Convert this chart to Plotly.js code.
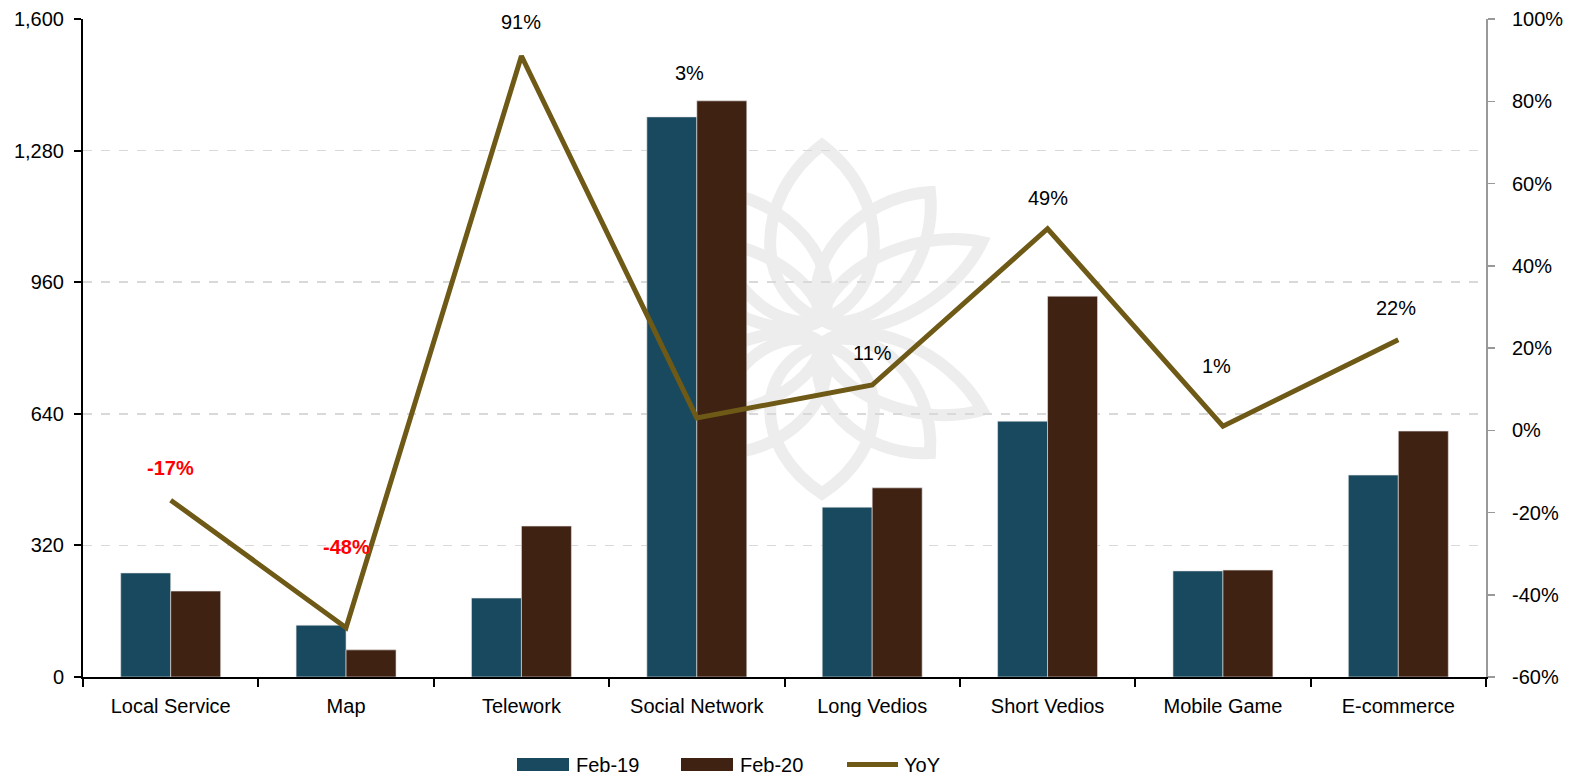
<!DOCTYPE html>
<html>
<head>
<meta charset="utf-8">
<script src="https://cdn.plot.ly/plotly-3.0.1.min.js"></script>
<style>
html,body{margin:0;padding:0;background:#fff;}
#chart{width:1569px;height:775px;}
</style>
</head>
<body>
<div id="chart"></div>
<script>
// ---- data ----
const categories = ["Local Service","Map","Telework","Social Network","Long Vedios","Short Vedios","Mobile Game","E-commerce"];
const feb19 = [253, 126, 192, 1362, 413, 622, 258, 491];
const feb20 = [209, 66, 367, 1401, 460, 926, 260, 598];
const yoy = [-17, -48, 91, 3, 11, 49, 1, 22];
const seriesNames = ["Feb-19", "Feb-20", "YoY"];
const leftTicks = [0, 320, 640, 960, 1280, 1600];
const rightTicks = [-60, -40, -20, 0, 20, 40, 60, 80, 100];

// ---- style ----
const C19 = "#19495E", C20 = "#402213", CL = "#6E5A16";
const FONT = "Liberation Sans, Arial, sans-serif";
const labelShift = [32, 81, 34, 345, 32, 31, 60, 32];
const labelDx = [0, 0, 0, -7, 0, 0, -6, -2];

// plot area in pixels (for decoration helpers)
const PX0 = 83, PX1 = 1486, PY0 = 19, PY1 = 677;
const px = x => (x - PX0) / (PX1 - PX0);
const py = y => (PY1 - y) / (PY1 - PY0);

function petal(bx, by, tx, ty, w) {
  const mx = (bx + tx) / 2, my = (by + ty) / 2;
  const dx = tx - bx, dy = ty - by, L = Math.hypot(dx, dy);
  const nx = -dy / L, ny = dx / L;
  const k = 1.33 * w;
  const a1x = bx + dx * 0.15 + nx * k, a1y = by + dy * 0.15 + ny * k;
  const a2x = bx + dx * 0.7 + nx * k, a2y = by + dy * 0.7 + ny * k;
  const b1x = bx + dx * 0.7 - nx * k, b1y = by + dy * 0.7 - ny * k;
  const b2x = bx + dx * 0.15 - nx * k, b2y = by + dy * 0.15 - ny * k;
  return `M${px(bx)},${py(by)} C${px(a1x)},${py(a1y)} ${px(a2x)},${py(a2y)} ${px(tx)},${py(ty)} ` +
         `C${px(b1x)},${py(b1y)} ${px(b2x)},${py(b2y)} ${px(bx)},${py(by)} Z`;
}
const shapes = [];
function lotus(cx, by, s) {
  const defs = [
    [0, -175, 52], [108, -128, 40], [-108, -128, 40], [160, -78, 32], [-160, -78, 32]
  ];
  defs.forEach(([dx, dy, w]) => {
    shapes.push({
      type: "path", xref: "paper", yref: "paper", layer: "below",
      path: petal(cx, by, cx + dx, by + dy * s, w),
      line: {color: "#ededed", width: 12},
      fillcolor: "rgba(0,0,0,0)"
    });
  });
}
lotus(822, 320, 1);
lotus(822, 343, -0.86);

// ---- manual legend (wide swatches as in the reference) ----
const legendAnn = [];
const legX = [517, 681, 845];
const legColors = [C19, C20, CL];
seriesNames.forEach((n, i) => {
  if (i < 2) {
    shapes.push({type: "rect", xref: "paper", yref: "paper", x0: px(legX[i]), x1: px(legX[i] + 52),
      y0: py(771), y1: py(758), fillcolor: legColors[i], line: {width: 0}});
  } else {
    shapes.push({type: "line", xref: "paper", yref: "paper", x0: px(legX[i] + 2), x1: px(legX[i] + 53),
      y0: py(764.5), y1: py(764.5), line: {color: legColors[i], width: 5}});
  }
  legendAnn.push({xref: "paper", yref: "paper", x: px(legX[i] + 57), y: py(765), xanchor: "left", yanchor: "middle",
    text: n, showarrow: false, font: {family: FONT, size: 20, color: "#000"}});
});

const annotations = yoy.map((v, i) => ({
  x: categories[i], y: v, xref: "x", yref: "y2",
  text: v + "%", showarrow: false, yshift: labelShift[i], xshift: labelDx[i],
  font: {family: FONT, size: 20, color: v < 0 ? "#FF0000" : "#000000", weight: v < 0 ? "bold" : "normal"}
})).concat(legendAnn);

const traces = [
  {type: "bar", x: categories, y: feb19, name: seriesNames[0], marker: {color: C19, line: {color: "#e6e6e6", width: 0.6}}},
  {type: "bar", x: categories, y: feb20, name: seriesNames[1], marker: {color: C20, line: {color: "#e6e6e6", width: 0.6}}},
  {type: "scatter", mode: "lines", x: categories, y: yoy, yaxis: "y2", name: seriesNames[2], line: {color: CL, width: 5}}
];

const layout = {
  width: 1569, height: 775,
  margin: {l: 83, r: 83, t: 19, b: 98, autoexpand: false},
  paper_bgcolor: "#fff", plot_bgcolor: "#fff",
  font: {family: FONT, size: 20, color: "#000"},
  barmode: "group", bargap: 0.43, bargroupgap: 0,
  showlegend: false,
  xaxis: {
    type: "category", tickson: "boundaries", ticks: "outside", ticklen: 8, tickwidth: 2, tickcolor: "#000",
    showline: true, linecolor: "#000", linewidth: 2, showgrid: false, zeroline: false,
    tickfont: {family: FONT, size: 20, color: "#000"}, range: [-0.5, 7.5], ticklabelstandoff: 10
  },
  yaxis: {
    range: [0, 1600], tickvals: leftTicks, ticktext: leftTicks.map(v => v.toLocaleString("en-US")),
    ticks: "outside", ticklen: 7, tickwidth: 2, tickcolor: "#000",
    showline: true, linecolor: "#000", linewidth: 2,
    showgrid: true, gridcolor: "#d9d9d9", griddash: "dash", gridwidth: 1.5, zeroline: false,
    tickfont: {family: FONT, size: 20, color: "#000"}, ticklabelstandoff: 6
  },
  yaxis2: {
    overlaying: "y", side: "right", range: [-60, 100], tickvals: rightTicks, ticktext: rightTicks.map(v => v + "%"),
    ticks: "outside", ticklen: 7, tickwidth: 1.5, tickcolor: "#999",
    showline: true, linecolor: "#999", linewidth: 2, showgrid: false, zeroline: false,
    tickfont: {family: FONT, size: 20, color: "#000"}, ticklabelstandoff: 13
  },
  shapes: shapes,
  annotations: annotations
};

Plotly.newPlot("chart", traces, layout, {displayModeBar: false, staticPlot: true});
</script>
</body>
</html>
